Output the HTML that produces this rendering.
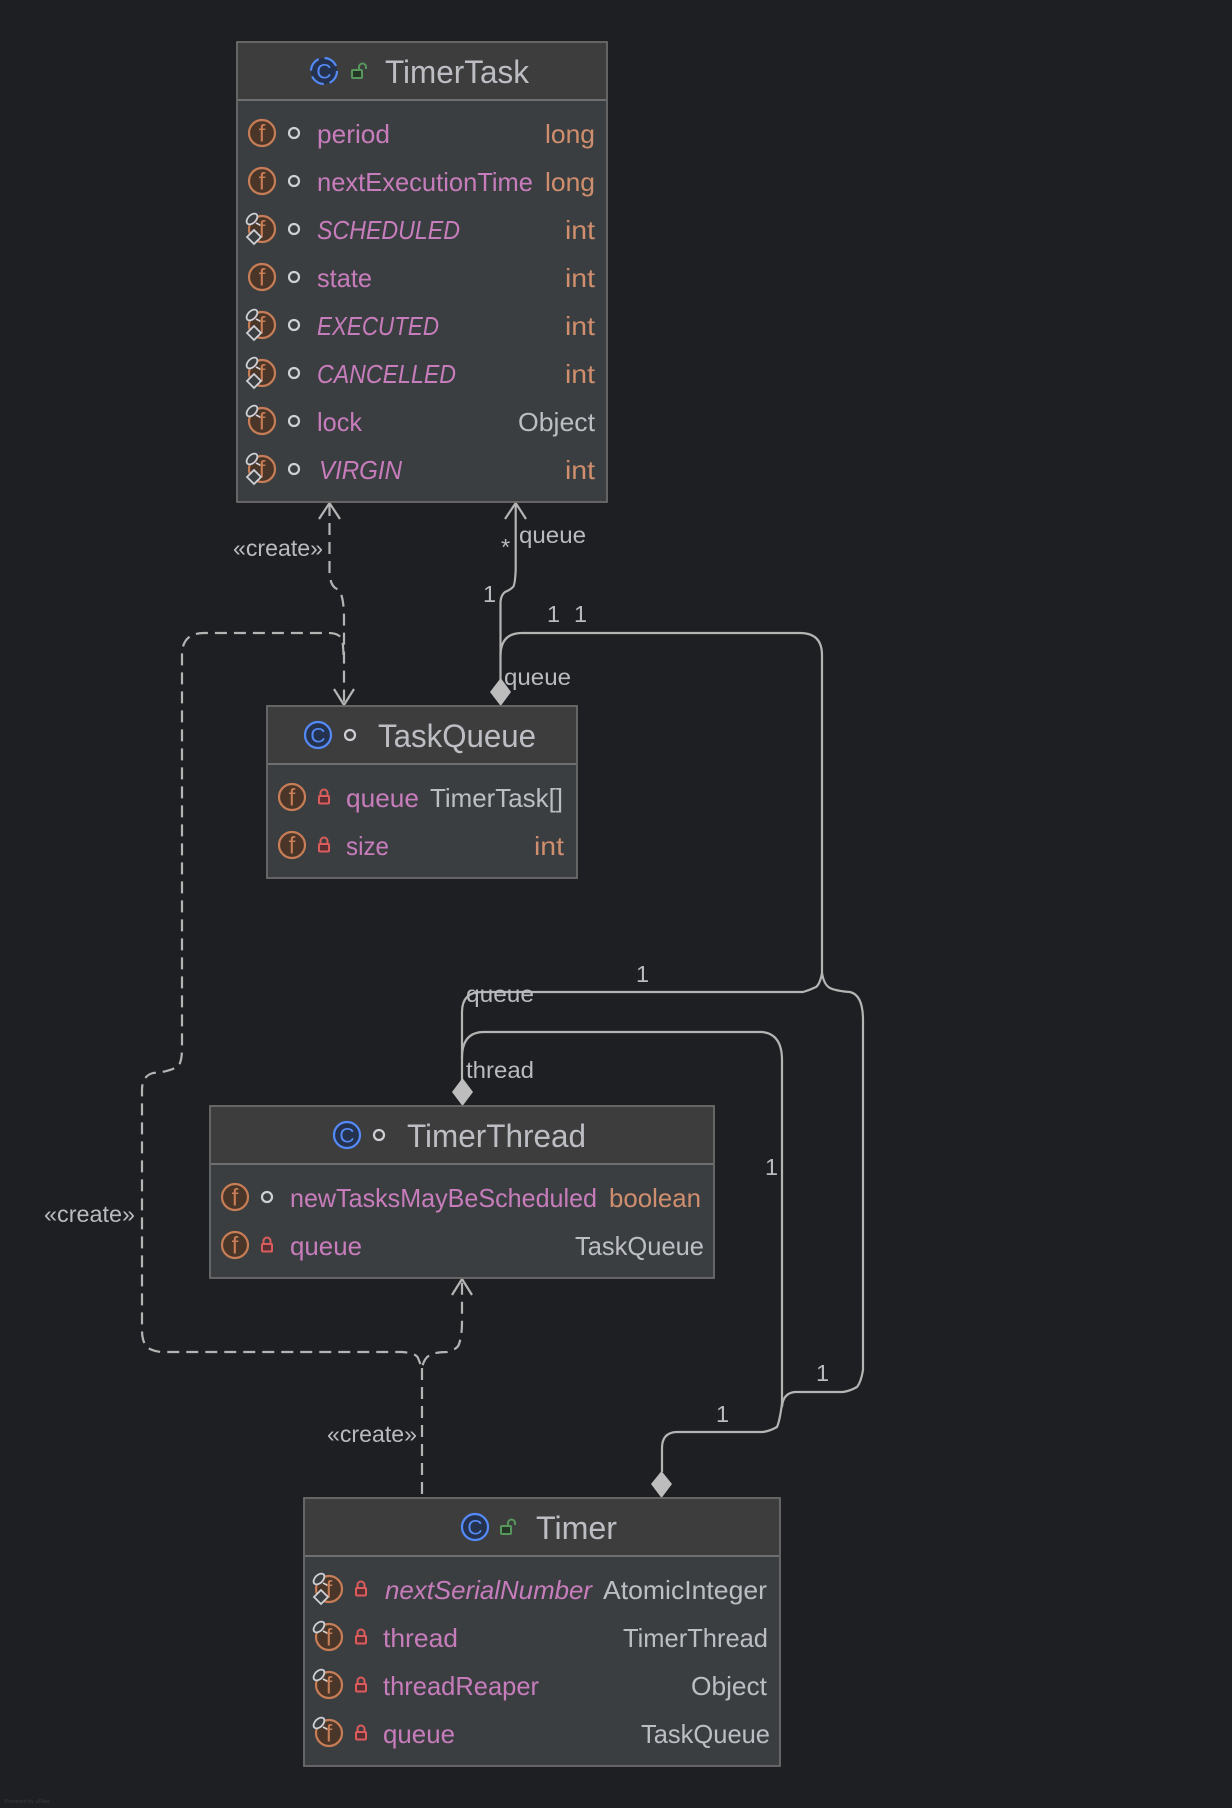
<!DOCTYPE html>
<html><head><meta charset="utf-8"><style>
html,body{margin:0;padding:0;background:#1e1f22}
svg{display:block}
text{font-family:"Liberation Sans",sans-serif}
.t{font-size:32px;fill:#bcbec4}
.n{font-size:26px;fill:#c77dbb}
.i{font-size:26px;fill:#c77dbb;font-style:italic}
.o{font-size:26px;fill:#cf8e6d}
.g{font-size:26px;fill:#bcbec4}
.l{font-size:23.5px;fill:#b9bbbf}
.box{fill:#3b3e41;stroke:#6b6b6b;stroke-width:1.8}
.hd{fill:#3d3d3d}
.sep{stroke:#6f6f6f;stroke-width:2}
.c{fill:none;stroke:#b4b4b4;stroke-width:2.2}
.d{stroke-dasharray:12 7}
.dm{fill:#bdbdbd}
</style></head><body>
<svg width="1232" height="1808" viewBox="0 0 1232 1808" xmlns="http://www.w3.org/2000/svg">
<defs>
<g id="f"><circle r="13" fill="#4a3529" stroke="#c77d55" stroke-width="2.2"/><text x="0" y="8.500" text-anchor="middle" style="font-size:24px;fill:#c77d55">f</text></g>
<g id="e"><ellipse cx="-10" cy="-10" rx="6.500" ry="4" transform="rotate(-45 -10 -10)" fill="#3b3e41" stroke="#ced0d6" stroke-width="1.800"/><path d="M-6 -6L-2 -4" stroke="#ced0d6" stroke-width="1.800"/></g>
<g id="s"><use href="#e"/><path d="M-8 1L-1 8L-8 15L-15 8Z" fill="#3b3e41" stroke="#ced0d6" stroke-width="1.800"/></g>
<g id="p"><circle r="5" fill="none" stroke="#ced0d6" stroke-width="2.200"/></g>
<g id="k"><path d="M-3.500 -1V-4A3.500 3.500 0 0 1 3.500 -4V-1" fill="none" stroke="#db5c5c" stroke-width="2"/><rect x="-5" y="-1" width="10" height="7.500" rx="1" fill="#5a2f33" stroke="#db5c5c" stroke-width="2"/></g>
<g id="u"><rect x="-6" y="-1" width="10" height="8" rx="1" fill="#253627" stroke="#57965c" stroke-width="2"/><path d="M1 -1V-4A3.500 3.500 0 0 1 8 -4V-2" fill="none" stroke="#57965c" stroke-width="2"/></g>
<g id="C"><circle r="13" fill="#25324d" stroke="#548af7" stroke-width="2.200"/><text x="0" y="7.500" text-anchor="middle" style="font-size:21px;fill:#548af7">C</text></g>
<g id="Cd"><circle r="13" fill="#25324d" stroke="#548af7" stroke-width="2.200" stroke-dasharray="14.500 6"/><text x="0" y="7.500" text-anchor="middle" style="font-size:21px;fill:#548af7">C</text></g>
</defs>
<rect width="1232" height="1808" fill="#1e1f22"/>

<!-- connectors -->
<path class="c d" d="M329.500 504V572Q330 586 337 589Q344 592 344 620V705"/>
<path class="c" d="M319 519L329.500 503L340 519M334 689L344 705L354 689"/>
<path class="c d" d="M343.500 655Q343 642 342 640Q340 633 328 633H204Q182 633 182 655V1048Q182 1064 177 1067Q168 1072 153 1073Q142 1076 142 1090V1330Q142 1345 150 1349Q156 1352 164 1352H402Q416 1353 418 1358L422 1368Q424 1357 432 1354Q438 1352 447 1352Q458 1349 459 1344Q462 1336 462 1322V1280"/>
<path class="c d" d="M422 1368V1498"/>
<path class="c" d="M452 1295L462 1279L472 1295"/>
<path class="c" d="M515.700 504V570Q515 585 513 587Q510 590 505 592Q501 595 500.500 602V680"/>
<path class="c" d="M505 519L515.700 503L526 519"/>
<path class="c" d="M500.500 655Q501 633 522 633H800Q822 633 822 655V973Q820 984 816 987Q810 990 803 992H482Q462 992 462 1012V1080"/>
<path class="c" d="M822 973Q824 985 830 988Q836 991 850 992Q863 995 863 1020V1370Q861 1382 857 1387Q850 1391 843 1392H795Q783 1393 782 1407"/>
<path class="c" d="M462 1058Q462 1032 484 1032H762Q782 1034 782 1060V1403Q780 1420 777 1427Q770 1431 763 1432H676Q662 1433 662 1448V1472"/>
<path class="dm" d="M500.700 678L511 692L500.700 706L490 692Z"/>
<path class="dm" d="M462.500 1078L473 1092L462.500 1106L452 1092Z"/>
<path class="dm" d="M661.500 1471L672 1484L661.500 1498L651 1484Z"/>

<!-- TimerTask -->
<rect class="box" x="237" y="42" width="370" height="460"/>
<rect class="hd" x="238" y="43" width="368" height="57"/>
<line class="sep" x1="238" y1="100" x2="606" y2="100"/>
<use href="#Cd" x="324" y="71"/><use href="#u" x="358" y="71"/>
<text class="t" x="385" y="83" textLength="144" lengthAdjust="spacingAndGlyphs">TimerTask</text>
<use href="#f" x="262" y="133"/><use href="#p" x="294" y="133"/>
<text class="n" x="317" y="143" textLength="73" lengthAdjust="spacingAndGlyphs">period</text>
<text class="o" x="545" y="143" textLength="50" lengthAdjust="spacingAndGlyphs">long</text>
<use href="#f" x="262" y="181"/><use href="#p" x="294" y="181"/>
<text class="n" x="317" y="191" textLength="216" lengthAdjust="spacingAndGlyphs">nextExecutionTime</text>
<text class="o" x="545" y="191" textLength="50" lengthAdjust="spacingAndGlyphs">long</text>
<use href="#f" x="262" y="229"/><use href="#s" x="262" y="229"/><use href="#p" x="294" y="229"/>
<text class="i" x="317" y="239" textLength="143" lengthAdjust="spacingAndGlyphs">SCHEDULED</text>
<text class="o" x="565" y="239" textLength="30" lengthAdjust="spacingAndGlyphs">int</text>
<use href="#f" x="262" y="277"/><use href="#p" x="294" y="277"/>
<text class="n" x="317" y="287" textLength="55" lengthAdjust="spacingAndGlyphs">state</text>
<text class="o" x="565" y="287" textLength="30" lengthAdjust="spacingAndGlyphs">int</text>
<use href="#f" x="262" y="325"/><use href="#s" x="262" y="325"/><use href="#p" x="294" y="325"/>
<text class="i" x="317" y="335" textLength="122" lengthAdjust="spacingAndGlyphs">EXECUTED</text>
<text class="o" x="565" y="335" textLength="30" lengthAdjust="spacingAndGlyphs">int</text>
<use href="#f" x="262" y="373"/><use href="#s" x="262" y="373"/><use href="#p" x="294" y="373"/>
<text class="i" x="317" y="383" textLength="139" lengthAdjust="spacingAndGlyphs">CANCELLED</text>
<text class="o" x="565" y="383" textLength="30" lengthAdjust="spacingAndGlyphs">int</text>
<use href="#f" x="262" y="421"/><use href="#e" x="262" y="421"/><use href="#p" x="294" y="421"/>
<text class="n" x="317" y="431" textLength="45" lengthAdjust="spacingAndGlyphs">lock</text>
<text class="g" x="518" y="431" textLength="77" lengthAdjust="spacingAndGlyphs">Object</text>
<use href="#f" x="262" y="469"/><use href="#s" x="262" y="469"/><use href="#p" x="294" y="469"/>
<text class="i" x="319" y="479" textLength="83" lengthAdjust="spacingAndGlyphs">VIRGIN</text>
<text class="o" x="565" y="479" textLength="30" lengthAdjust="spacingAndGlyphs">int</text>

<!-- TaskQueue -->
<rect class="box" x="267" y="706" width="310" height="172"/>
<rect class="hd" x="268" y="707" width="308" height="57"/>
<line class="sep" x1="268" y1="764" x2="576" y2="764"/>
<use href="#C" x="318" y="735"/><use href="#p" x="350" y="735"/>
<text class="t" x="378" y="747" textLength="158" lengthAdjust="spacingAndGlyphs">TaskQueue</text>
<use href="#f" x="292" y="797"/><use href="#k" x="324" y="797"/>
<text class="n" x="346" y="807" textLength="73" lengthAdjust="spacingAndGlyphs">queue</text>
<text class="g" x="430" y="807" textLength="133" lengthAdjust="spacingAndGlyphs">TimerTask[]</text>
<use href="#f" x="292" y="845"/><use href="#k" x="324" y="845"/>
<text class="n" x="346" y="855" textLength="43" lengthAdjust="spacingAndGlyphs">size</text>
<text class="o" x="534" y="855" textLength="30" lengthAdjust="spacingAndGlyphs">int</text>

<!-- TimerThread -->
<rect class="box" x="210" y="1106" width="504" height="172"/>
<rect class="hd" x="211" y="1107" width="502" height="57"/>
<line class="sep" x1="211" y1="1164" x2="713" y2="1164"/>
<use href="#C" x="347" y="1135"/><use href="#p" x="379" y="1135"/>
<text class="t" x="407" y="1147" textLength="179" lengthAdjust="spacingAndGlyphs">TimerThread</text>
<use href="#f" x="235" y="1197"/><use href="#p" x="267" y="1197"/>
<text class="n" x="290" y="1207" textLength="307" lengthAdjust="spacingAndGlyphs">newTasksMayBeScheduled</text>
<text class="o" x="609" y="1207" textLength="92" lengthAdjust="spacingAndGlyphs">boolean</text>
<use href="#f" x="235" y="1245"/><use href="#k" x="267" y="1245"/>
<text class="n" x="290" y="1255" textLength="72" lengthAdjust="spacingAndGlyphs">queue</text>
<text class="g" x="575" y="1255" textLength="129" lengthAdjust="spacingAndGlyphs">TaskQueue</text>

<!-- Timer -->
<rect class="box" x="304" y="1498" width="476" height="268"/>
<rect class="hd" x="305" y="1499" width="474" height="57"/>
<line class="sep" x1="305" y1="1556" x2="779" y2="1556"/>
<use href="#C" x="475" y="1527"/><use href="#u" x="507" y="1527"/>
<text class="t" x="536" y="1539" textLength="81" lengthAdjust="spacingAndGlyphs">Timer</text>
<use href="#f" x="329" y="1589"/><use href="#s" x="329" y="1589"/><use href="#k" x="361" y="1589"/>
<text class="i" x="385" y="1599" textLength="207" lengthAdjust="spacingAndGlyphs">nextSerialNumber</text>
<text class="g" x="603" y="1599" textLength="164" lengthAdjust="spacingAndGlyphs">AtomicInteger</text>
<use href="#f" x="329" y="1637"/><use href="#e" x="329" y="1637"/><use href="#k" x="361" y="1637"/>
<text class="n" x="383" y="1647" textLength="75" lengthAdjust="spacingAndGlyphs">thread</text>
<text class="g" x="623" y="1647" textLength="145" lengthAdjust="spacingAndGlyphs">TimerThread</text>
<use href="#f" x="329" y="1685"/><use href="#e" x="329" y="1685"/><use href="#k" x="361" y="1685"/>
<text class="n" x="383" y="1695" textLength="156" lengthAdjust="spacingAndGlyphs">threadReaper</text>
<text class="g" x="691" y="1695" textLength="76" lengthAdjust="spacingAndGlyphs">Object</text>
<use href="#f" x="329" y="1733"/><use href="#e" x="329" y="1733"/><use href="#k" x="361" y="1733"/>
<text class="n" x="383" y="1743" textLength="72" lengthAdjust="spacingAndGlyphs">queue</text>
<text class="g" x="641" y="1743" textLength="129" lengthAdjust="spacingAndGlyphs">TaskQueue</text>

<!-- labels -->
<text class="l" x="233" y="556" textLength="90" lengthAdjust="spacingAndGlyphs">«create»</text>
<text class="l" x="44" y="1222" textLength="91" lengthAdjust="spacingAndGlyphs">«create»</text>
<text class="l" x="327" y="1442" textLength="90" lengthAdjust="spacingAndGlyphs">«create»</text>
<text class="l" x="501" y="555">*</text>
<text class="l" x="519" y="543" textLength="67" lengthAdjust="spacingAndGlyphs">queue</text>
<text class="l" x="504" y="685" textLength="67" lengthAdjust="spacingAndGlyphs">queue</text>
<text class="l" x="466" y="1002" textLength="68" lengthAdjust="spacingAndGlyphs">queue</text>
<text class="l" x="466" y="1078" textLength="68" lengthAdjust="spacingAndGlyphs">thread</text>
<text class="l" x="483" y="602">1</text>
<text class="l" x="547" y="622">1</text>
<text class="l" x="574" y="622">1</text>
<text class="l" x="636" y="982">1</text>
<text class="l" x="765" y="1175">1</text>
<text class="l" x="716" y="1422">1</text>
<text class="l" x="816" y="1381">1</text>
<text x="5" y="1803" style="font-size:5.500px;fill:#3a3b3e">Powered by yFiles</text>
</svg>
</body></html>
